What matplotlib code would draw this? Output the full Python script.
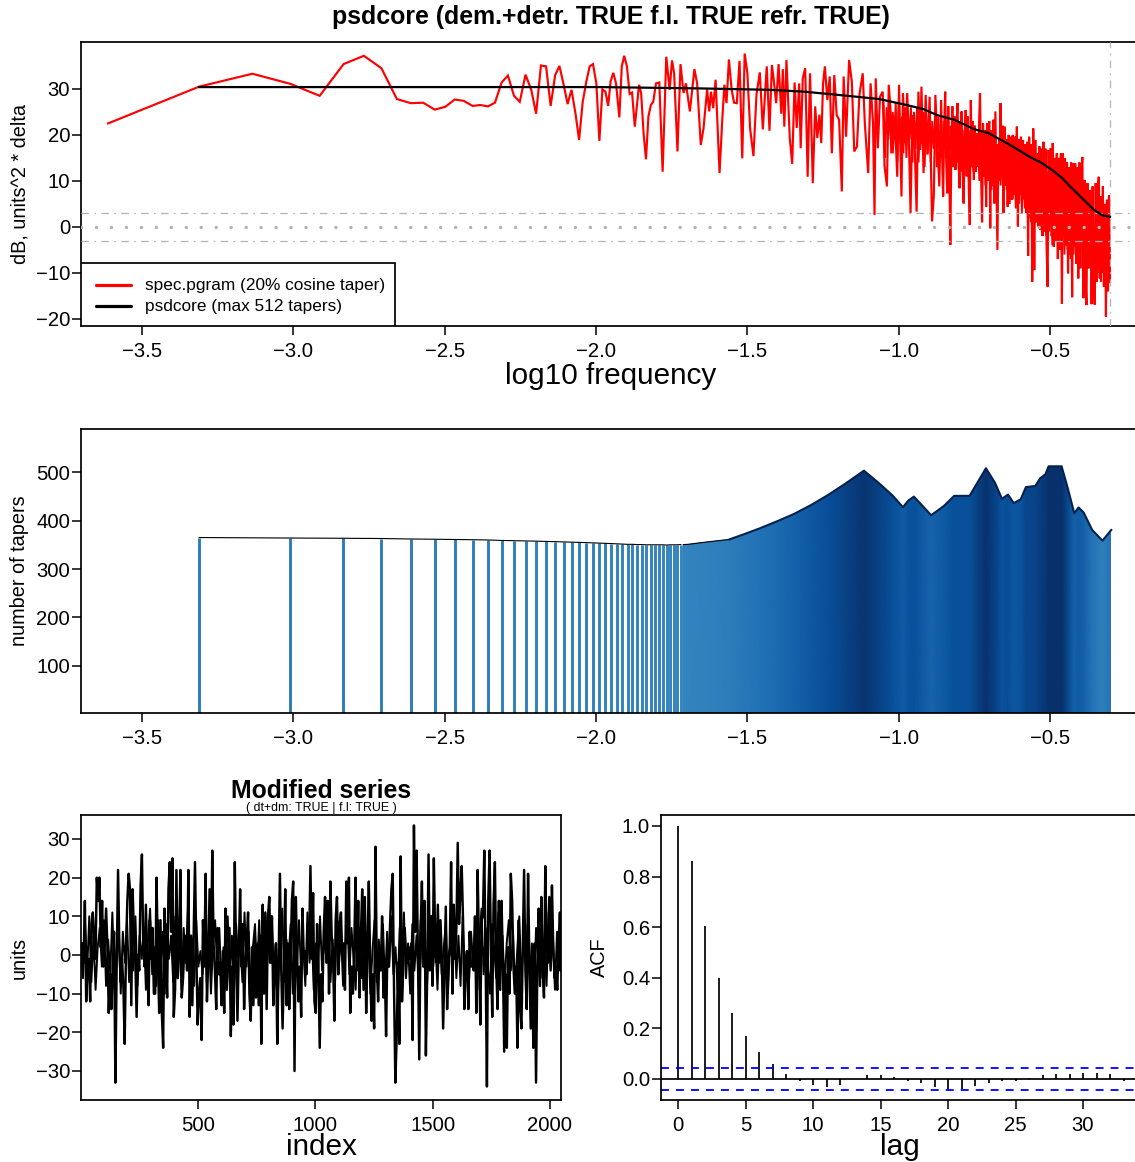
import numpy as np
import matplotlib
matplotlib.use("Agg")
import matplotlib.pyplot as plt
from matplotlib.colors import LinearSegmentedColormap
from matplotlib.patches import PathPatch, Rectangle
from matplotlib.path import Path

plt.rcParams['font.family'] = ['Liberation Sans', 'DejaVu Sans']

# ---------- periodogram, low frequencies (individually readable points)
pgram_logf = [-3.612,-3.311,-3.135,-3.010,-2.913,-2.834,-2.767,-2.709,-2.658,-2.612,-2.571,-2.533,-2.498,-2.467,-2.437,
 -2.408,-2.382,-2.357,-2.334,-2.312,-2.291,-2.271,-2.252,-2.233,-2.214,-2.198,-2.182,-2.165,-2.150,-2.135,-2.121,-2.107,
 -2.094,-2.081,-2.068,-2.056,-2.044,-2.032,-2.021,-2.010,-1.999,-1.989,-1.979,-1.969,-1.960,
 -1.952,-1.943,-1.934,-1.923,-1.915,-1.907,-1.898,-1.889,-1.881,-1.872,-1.858,-1.851,-1.843,-1.835,-1.827,-1.819,-1.811,
 -1.802,-1.791,-1.780,-1.768,-1.757,-1.749,-1.742,-1.731,-1.721,-1.711,-1.703,-1.690,-1.675,-1.666,-1.654,-1.645,-1.633,
 -1.626,-1.620,-1.613,-1.605,-1.592,-1.583,-1.576,-1.569,-1.561,-1.552,-1.544,-1.535,-1.526,-1.517,-1.509,-1.500,-1.491,
 -1.480,-1.470,-1.459,-1.449,-1.436,-1.427,-1.419,-1.413,-1.405,-1.397,-1.388,-1.383,-1.378,-1.371,-1.360,-1.352,-1.344,
 -1.337,-1.329,-1.324,-1.317,-1.309,-1.301,-1.293,-1.284,-1.276,-1.269,-1.262,-1.256,-1.250,-1.244,-1.236,-1.228,-1.221,
 -1.213,-1.205,-1.197,-1.188,-1.182,-1.174,-1.164,-1.155,-1.147,-1.138,-1.130,-1.119,-1.112,-1.101,-1.093,-1.085,-1.080,
 -1.076,-1.069,-1.062,-1.053,-1.047,-1.039,-1.033,-1.027,-1.020,-1.013,-1.005,-0.999,-0.991,-0.986,-0.979,-0.972,-0.967,
 -0.961,-0.955,-0.949,-0.941,-0.935,-0.929,-0.925,-0.918,-0.911,-0.905,-0.898,-0.890,-0.884,-0.879,-0.873,-0.866]
pgram_db = [22.5,30.5,33.3,31.1,28.5,35.4,37.2,34.5,27.8,26.9,27.0,25.5,26.1,27.7,27.4,26.3,26.5,26.2,27.0,31.4,32.9,28.5,
 27.2,33.1,29.8,24.6,35.1,34.9,26.3,33.0,35.0,30.9,26.7,29.8,24.7,18.9,27.2,31.6,34.9,35.4,31.2,18.7,29.9,29.4,26.3,
 31.6,33.5,31.2,23.8,34.9,37.2,34.9,28.9,29.2,21.8,30.9,29.1,20.4,14.7,24.0,26.5,27.2,31.2,31.4,12.0,37.0,29.8,36.2,33.4,
 16.4,35.4,29.1,31.2,25.1,34.3,31.2,17.8,21.4,29.9,25.1,29.4,25.8,32.0,11.7,23.3,30.9,26.9,36.4,29.8,27.0,26.9,36.1,14.9,
 37.7,33.4,21.4,15.4,28.7,33.6,21.2,34.9,20.9,35.2,32.0,26.9,35.4,24.6,34.3,21.8,36.3,19.3,13.7,31.4,21.5,31.2,17.1,32.3,
 34.5,10.9,33.4,9.5,26.2,19.3,24.4,18.2,31.2,34.9,27.6,32.7,16.0,33.0,24.3,23.3,7.7,32.7,19.6,36.3,31.6,16.4,17.5,28.7,
 33.4,22.5,11.7,31.2,22.5,2.6,32.3,17.1,28.3,29.4,13.3,8.8,30.9,25.4,16.0,24.0,10.9,30.9,6.6,29.1,18.2,29.1,20.4,3.0,24.3,
 21.1,3.3,29.4,16.7,30.5,11.7,28.7,15.7,28.3,1.2,6.9,28.7,19.6,8.8]

# ---------- periodogram, high frequencies (zigzag read across the dense band)
pgram_dense_db = [27.6,15,6.6,22,29.4,14,7.3,26.2,12,-3.9,17,26.2,13,24,12.4,22,26.9,14,8.4,21,25.1,12,5.1,20,25.4,11,24,8.8,
 0.4,27.6,13,23,10.2,22,12,20.4,13.1,22,29.1,12,1.0,22.5,11,21,4.4,22.5,10,23,-0.3,21,9,23.3,5.1,25.1,10,-5.0,18,10,26.9,
 11.7,22,3.0,21.8,9,19,4.4,20,8,19.6,5.9,20,7,19.6,12,21.8,0.1,19,7,19.6,5.1,18.9,6,18,3,18.5,-6.3,19.6,2,18,-11.9,21.4,
 -9.4,18.9,1,16,0.1,17.5,-0.7,17,-2,18.5,-1,17,-4,-13,16.7,0.1,17.1,-2,18.2,-4.3,15,-3,16,-7,15,-5,16,-16.7,16,0.1,14.9,
 -4,14,-10.1,13,-6,14,-15.3,13.8,-4.3,13.8,-8,13,-11.2,14,-9,12,15.2,-15.5,10.2,-11,-17,9.5,-9,6.6,8,-16.8,8.8,-10,-16.9,
 9.5,-12,8,10.9,-11.2,6.6,-10,8.8,-13,5,-19.5,5.9,-14,6.9,-12]
pgram_dense_start, pgram_dense_end = -0.860, -0.302

# ---------- periodogram, solid core of the band (estimated top/bottom levels)
pgram_core_db = [27,15,26,19,27,16,25,20,27,14,26,18,24,16,26,15,25,19,26,14,
 25,17,26,14,24,18,25,13,24,16,25,14,23,17,24,13,24,15,23,14,
 23,15,24,12,22,16,23,13,22,14,23,12,21,15,22,11,21,13,22,12,
 21,13,20,10,21,12,20,9,19,11,20,8,19,10,18,7,19,9,18,6,
 18,8,17,5,17,6,16,4,16,5,15,3,15,4,14,2,15,1,14,0,
 14,2,13,0,13,-1,12,-2,12,-1,11,-4,11,-3,10,-5,10,-4,9,-6,
 9,-5,8,-7,8,-6,7,-8,7,-7,6,-9,6,-10,5,-9,5,-10,4,-11,
 4,-10,4,-12,3,-11,3,-12,2,-10]
pgram_core_start, pgram_core_end = -1.05, -0.302

# ---------- psdcore spectrum
psd_logf = [-3.311,-2.500,-1.988,-1.650,-1.425,-1.312,-1.200,-1.065,-0.974,-0.918,-0.873,-0.817,-0.749,-0.704,-0.637,
            -0.569,-0.525,-0.490,-0.460,-0.434,-0.389,-0.355,-0.327,-0.302]
psd_db = [30.4,30.4,30.4,30.1,29.8,29.4,28.7,27.8,26.5,25.6,24.3,23.3,21.2,20.4,18.0,15.3,13.8,12.2,10.6,8.8,5.9,3.7,2.5,2.2]

# ---------- number of tapers
taper_low_logf = [-3.311,-3.010,-2.835,-2.709,-2.612,-2.533,-2.466,-2.408,-2.357,-2.311,-2.270,-2.232,-2.197,-2.165,-2.135,
 -2.107,-2.081,-2.056,-2.032,-2.010,-1.989,-1.969,-1.949,-1.931,-1.913,-1.896,-1.880,-1.864,-1.849,-1.834,-1.820,-1.806,
 -1.793,-1.780,-1.767,-1.755,-1.743,-1.732,-1.720]
taper_low_n = [365,364,363.5,363,362,361.5,361,360.5,360,359,358.5,358,357.5,357,356.5,356,355.5,355,354.5,354,353.5,353,
 352.5,352,351.5,351,351,350.5,350.5,350,350,350,350,350,349.5,350,350,350,350.5]
taper_high_logf = [-1.712,-1.695,-1.639,-1.560,-1.515,-1.459,-1.402,-1.346,-1.290,-1.233,-1.177,-1.115,-1.065,-1.020,-0.986,
 -0.969,-0.950,-0.924,-0.893,-0.851,-0.817,-0.766,-0.738,-0.712,-0.682,-0.659,-0.639,-0.620,-0.597,-0.580,-0.549,-0.533,
 -0.515,-0.505,-0.462,-0.443,-0.420,-0.406,-0.389,-0.361,-0.327,-0.298]
taper_high_n = [350.5,351,355.5,361,371,384,398.5,413.7,432,453,476,503,477,451.5,427.5,441,449.5,432,411,430,451,451,480.5,
 508,478,445,453.6,436,444,469,471.5,487,496,512,512,470,415,427,416.5,380.6,358.6,380.6]

# ---------- modified series (read left to right across the trace)
series_units = [-3,3,-2,14,-12,-3,-1,-12,8,11,4,-1,20,14,20,2,14,-3,3,12,2,-15,-5,-14,-3,6,-33,-2,22,2,-7,-1,-8,-23,1,14,21,
 17,-13,17,5,-1,-16,0,-4,18,26,2,-3,13,-2,-13,9,-1,7,-10,-10,20,0,-15,9,-15,-24,12,2,-11,17,24,6,25,-16,-9,22,-6,3,22,-11,
 -6,2,5,-4,22,-16,5,-13,5,24,1,-18,-10,-6,-22,9,-3,21,-12,-1,17,-3,27,3,-4,-14,7,-5,-2,-13,1,-15,12,-9,-1,7,-21,-3,-18,24,
 -2,-17,1,17,-3,8,-14,-2,4,11,-10,-17,2,-13,4,-11,3,-13,5,-23,13,-10,11,-14,10,15,-2,10,-13,-3,3,-23,-2,21,-4,-19,-4,17,
 -13,3,-14,-2,14,19,-30,15,-1,-12,-3,-16,12,-1,1,-5,8,3,23,-1,16,-12,-15,8,-3,-24,-5,-12,6,15,-2,14,-10,19,5,1,-17,9,15,
 -5,8,
 11,-1,3,-9,19,3,20,-15,-3,-10,2,20,-4,14,-11,5,17,-9,15,-15,3,19,-2,-17,-5,-19,28,-3,-12,2,-4,10,-11,-3,-21,2,-3,8,17,
 21,-9,-33,-21,-2,-23,25.5,-12,-3,7,1,-2,2,-1,3,-22,33.5,6,27,-1,-27,6,19,-3,14,-26,-5,26,-4,10,-8,25,4,-2,13,-2,9,-1,-19,
 -3,12.5,-14,-1,2,24,-10,13,-1,7,29,8,16,23,9,-14,-3,1,-14,6,-3,-2,-4,10,-15,22,3,-18,9,10,27,-1,-34,14,27,2,-16,13,24,-3,
 -14,14,-9,14,-1,-25,-5,-24,2,-10,21,14,-3,-10,-3,-24,9,-14,-19,1,22,-4,-14,21,-2,-19,-2,-24,3,-33,-3,12,-8,15,-3,-11,23,
 1,-2,15,-4,18,2,-6,-3,-9,3,11,-4]
# solid central band of the trace (estimated swings, too dense to resolve one by one)
series_core = [3,-6,8,-4,10,-7,5,-9,2,7,-3,9,-8,4,-5,11,-6,1,8,-10,6,-2,9,-7,3,-4,10,-8,5,-1,
 7,-9,4,12,-5,2,-8,9,-3,6,-10,8,-1,5,-7,10,-4,3,-9,7,-2,11,-6,4,-8,9,-3,1,-5,8,
 -7,6,-10,3,9,-4,7,-8,2,-2,10,-6,5,-9,8,-1,4,-7,11,-3,6,-10,2,8,-5,9,-4,1,-8,7,
 -2,10,-6,3,-9,5,12,-7,4,-1,8,-10,6,-3,9,-5,2,-8,11,-2,7,-9,3,-6,10,-4,5,-1,8,-7,
 4,-10,9,-3,6,-8,2,10,-5,7,-1,-9,8,3,-6,11,-4,5,-10,1,9,-7,4,-2,8,-8,6,-3,10,-5,
 2,-9,7,-1,11,-6,3,-10,8,-4,5,-7,9,-2,1,-8,6,10,-3,4,-9,7,-5,2,8,-10,3,-1,9,-6,
 5,-8,10,-4,1,-7,6,-2,9,-9,4,12,-5,7,-3,-10,8,2,-6,11,-1,5,-8,3,9,-4,6,-9,1,10,
 -7,4,-2,8,-5,3,-10,7,-1,9,-6,2,-8,11,-3,5,-9,6,-4,8]
series_first_index, series_last_index = 1, 2048

# ---------- autocorrelation
acf_lag = list(range(0, 34))
acf_val = [1.0,0.86,0.605,0.40,0.26,0.17,0.108,0.058,0.021,-0.008,-0.025,-0.032,-0.022,-0.001,0.014,0.014,0.007,-0.006,
 -0.016,-0.03,-0.041,-0.041,-0.028,-0.016,-0.008,-0.006,0.005,0.017,0.021,0.02,0.022,0.024,0.018,-0.006]
acf_ci = 0.0433

# ---------- layout helpers
W, H = 1135, 1162
fig = plt.figure(figsize=(W/100, H/100), dpi=100)
TICK_FS = 14.6
YLAB_FS = 14.3
XLAB_FS = 21.4

def make_axes(left, top, right, bottom):
    ax = fig.add_axes([left/W, 1-bottom/H, (right-left)/W, (bottom-top)/H])
    for s in ax.spines.values():
        s.set_linewidth(1.25)
    ax.tick_params(length=6.2, width=1.1, labelsize=TICK_FS)
    ax.tick_params(axis='x', pad=5)
    ax.tick_params(axis='y', pad=1.7)
    return ax

# ---------- top panel
ax1 = make_axes(81, 42, 1135, 326)
ax1.spines['right'].set_visible(False)
xlim_top = (-3.7015, -0.2195)
ax1.set_xlim(*xlim_top)
ax1.set_ylim(-21.55, 40.2)
grey = '#b3b3b3'
for lev in (3, -3):
    ax1.axhline(lev, color=grey, lw=0.9, ls=(0, (6, 4.3, 1.3, 4.3)), zorder=4)
ax1.axhline(0, color=grey, lw=2.5, ls=(0, (0.01, 4.3)), dash_capstyle='round', zorder=4)
ax1.axvline(-0.301, color=grey, lw=0.9, ls=(0, (6, 4.3, 1.3, 4.3)), zorder=4)
full_x = np.concatenate([pgram_logf, np.linspace(pgram_dense_start, pgram_dense_end, len(pgram_dense_db))])
full_y = np.concatenate([pgram_db, pgram_dense_db])
ax1.plot(np.linspace(pgram_core_start, pgram_core_end, len(pgram_core_db)), pgram_core_db,
         color='#ff0000', lw=1.4, solid_joinstyle='miter', zorder=3)
ax1.plot(full_x, full_y, color='#ff0000', lw=1.55, solid_joinstyle='miter', zorder=3)
ax1.plot(psd_logf, psd_db, color='black', lw=1.6, zorder=5)
ax1.set_xticks([-3.5, -3, -2.5, -2, -1.5, -1, -0.5])
ax1.set_xticklabels(['\u22123.5', '\u22123.0', '\u22122.5', '\u22122.0', '\u22121.5', '\u22121.0', '\u22120.5'])
ax1.set_yticks([-20, -10, 0, 10, 20, 30])
ax1.set_ylabel('dB, units^2 * delta', fontsize=YLAB_FS, labelpad=0)
ax1.yaxis.set_label_coords(-0.049, 0.5)
ax1.set_xlabel('log10 frequency', fontsize=XLAB_FS, labelpad=0)
ax1.xaxis.set_label_coords((611-81)/(1135-81), -0.128)
fig.text(611/W, 1-17/H, 'psdcore (dem.+detr. TRUE f.l. TRUE refr. TRUE)', fontsize=17.9,
         fontweight='bold', ha='center', va='center')

# legend box, laid out in axes fractions
legend_labels = ['spec.pgram (20% cosine taper)', 'psdcore (max 512 tapers)']
legend_colors = ['#ff0000', 'black']
tr = ax1.transAxes
ax1.add_patch(Rectangle((0, 0), (395-81)/1054, (326-263)/284, transform=tr, fc='white', ec='black', lw=1.25, zorder=10))
for lab, col, py in zip(legend_labels, legend_colors, (285, 306)):
    fy = (326-py)/284
    ax1.plot([(96-81)/1054, (131-81)/1054], [fy, fy], transform=tr, color=col, lw=2.3, zorder=11,
             solid_capstyle='round')
    ax1.text((145-81)/1054, fy, lab, transform=tr, fontsize=12.45, va='center', ha='left', zorder=11)

# ---------- taper panel
ax2 = make_axes(81, 429, 1135, 713)
ax2.spines['right'].set_visible(False)
ax2.set_xlim(*xlim_top)
ax2.set_ylim(2.9, 589)
blues = plt.get_cmap('Blues')
cmap = LinearSegmentedColormap.from_list('b', blues(np.linspace(0.68, 1.0, 64)))
norm = plt.Normalize(350, 512)
y0 = ax2.get_ylim()[0]
ax2.vlines(taper_low_logf, y0, taper_low_n, colors=cmap(norm(np.array(taper_low_n))), lw=2.1, zorder=2)
xh = np.array(taper_high_logf); nh = np.array(taper_high_n)
X = np.vstack([xh, xh]); Y = np.vstack([np.full_like(nh, y0), np.full_like(nh, 600.0)])
C = np.vstack([nh, nh])
mesh = ax2.pcolormesh(X, Y, C, shading='gouraud', cmap=cmap, norm=norm, zorder=2)
verts = [(xh[0], y0)] + list(zip(xh, nh)) + [(xh[-1], y0), (xh[0], y0)]
clip = PathPatch(Path(verts), transform=ax2.transData, fc='none', ec='none')
ax2.add_patch(clip)
mesh.set_clip_path(clip)
ax2.plot(taper_low_logf, taper_low_n, color='black', lw=0.8, zorder=3)
ax2.plot(taper_high_logf[:4], taper_high_n[:4], color='black', lw=0.8, zorder=3)
ax2.plot(taper_high_logf[3:], taper_high_n[3:], color='#04214d', lw=1.5, zorder=3)
ax2.set_xticks([-3.5, -3, -2.5, -2, -1.5, -1, -0.5])
ax2.set_xticklabels(['\u22123.5', '\u22123.0', '\u22122.5', '\u22122.0', '\u22121.5', '\u22121.0', '\u22120.5'])
ax2.set_yticks([100, 200, 300, 400, 500])
ax2.set_ylabel('number of tapers', fontsize=YLAB_FS)
ax2.yaxis.set_label_coords(-0.049, 0.5)

# ---------- series panel
ax3 = make_axes(81, 815, 561, 1100)
ax3.set_xlim(1.5, 2047)
ax3.set_ylim(-37.5, 36.2)
ax3.plot(np.linspace(series_first_index, series_last_index, len(series_core)), series_core, color='black', lw=1.4)
ax3.plot(np.linspace(series_first_index, series_last_index, len(series_units)), series_units, color='black', lw=1.75)
ax3.set_xticks([500, 1000, 1500, 2000])
ax3.set_yticks([-30, -20, -10, 0, 10, 20, 30])
ax3.set_ylabel('units', fontsize=YLAB_FS)
ax3.yaxis.set_label_coords(-0.1084, 0.5)
ax3.set_xlabel('index', fontsize=XLAB_FS)
ax3.xaxis.set_label_coords(0.5, -0.115)
fig.text(321/W, 1-790.5/H, 'Modified series', fontsize=17.8, fontweight='bold', ha='center', va='center')
fig.text(321/W, 1-808/H, '( dt+dm: TRUE | f.l: TRUE )', fontsize=8.9, ha='center', va='center')

# ---------- ACF panel
ax4 = make_axes(661, 815, 1135, 1100)
ax4.spines['right'].set_visible(False)
ax4.set_xlim(-1.26, 33.85)
ax4.set_ylim(-0.083, 1.043)
ax4.vlines(acf_lag, 0, acf_val, colors='black', lw=1.25)
ax4.axhline(0, color='black', lw=1.25)
for v in (acf_ci, -acf_ci):
    ax4.axhline(v, color='#0000ff', lw=1.3, ls=(0, (4.4, 3.9)))
ax4.set_xticks([0, 5, 10, 15, 20, 25, 30])
ax4.set_yticks([0, 0.2, 0.4, 0.6, 0.8, 1.0])
ax4.set_yticklabels(['0.0', '0.2', '0.4', '0.6', '0.8', '1.0'])
ax4.set_ylabel('ACF', fontsize=YLAB_FS)
ax4.yaxis.set_label_coords(-0.110, 0.5)
ax4.set_xlabel('lag', fontsize=XLAB_FS)
ax4.xaxis.set_label_coords((900-661)/(1135-661), -0.115)

fig.savefig('out.png', dpi=100)
